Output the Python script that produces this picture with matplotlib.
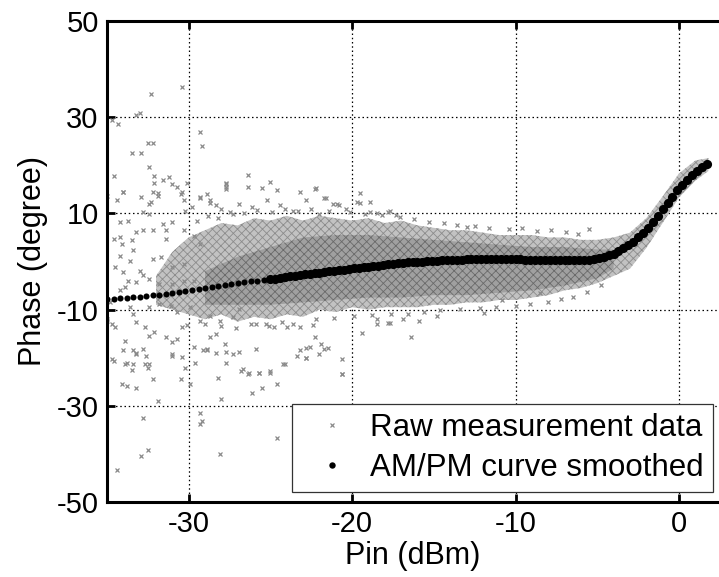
import matplotlib
matplotlib.use("Agg")
import matplotlib.pyplot as plt
from matplotlib.lines import Line2D

plt.rcParams['font.family'] = ['Liberation Sans', 'DejaVu Sans']
plt.rcParams['axes.unicode_minus'] = False
plt.rcParams['hatch.linewidth'] = 0.6

# ---------------- data ----------------
# smoothed AM/PM curve (dots)
curve_x = [-35.0, -34.6, -34.2, -33.8, -33.4, -33.0, -32.6, -32.2, -31.8, -31.4,
           -31.0, -30.6, -30.2, -29.8, -29.4, -29.0, -28.6, -28.2, -27.8, -27.4,
           -27.0, -26.6, -26.2, -25.8, -25.4,
           -25.0, -24.7, -24.4, -24.1, -23.8, -23.5, -23.2, -22.9, -22.6, -22.3,
           -22.0, -21.7, -21.4, -21.1, -20.8, -20.5, -20.2, -19.9, -19.6, -19.3,
           -19.0, -18.7, -18.4, -18.1, -17.8, -17.5, -17.2, -16.9, -16.6, -16.3,
           -16.0, -15.7, -15.4, -15.1, -14.8, -14.5, -14.2, -13.9, -13.6, -13.3,
           -13.0, -12.7, -12.4, -12.1, -11.8, -11.5, -11.2, -10.9, -10.6, -10.3,
           -10.0, -9.7, -9.4, -9.1, -8.8, -8.5, -8.2, -7.9, -7.6, -7.3,
           -7.0, -6.7, -6.4, -6.1, -5.8, -5.5, -5.2, -4.9, -4.6, -4.3,
           -4.0, -3.7, -3.4, -3.1, -2.8, -2.5, -2.2, -1.9, -1.6, -1.3,
           -1.0, -0.7, -0.4, -0.1, 0.2, 0.5, 0.8, 1.1, 1.4, 1.7]
curve_y = [-7.8, -7.7, -7.6, -7.5, -7.4, -7.3, -7.1, -7.0, -6.9, -6.7,
           -6.55, -6.35, -6.15, -5.95, -5.75, -5.55, -5.35, -5.1, -4.9, -4.65,
           -4.45, -4.3, -4.15, -4.0, -3.85,
           -3.7, -3.55, -3.4, -3.25, -3.1, -2.95, -2.8, -2.7, -2.55, -2.45,
           -2.3, -2.2, -2.05, -1.95, -1.8, -1.7, -1.6, -1.45, -1.35, -1.2,
           -1.1, -0.95, -0.85, -0.75, -0.6, -0.5, -0.4, -0.3, -0.2, -0.15,
           -0.05, 0.0, 0.1, 0.15, 0.2, 0.25, 0.3, 0.35, 0.4, 0.4,
           0.45, 0.45, 0.5, 0.5, 0.5, 0.5, 0.5, 0.5, 0.5, 0.5,
           0.45, 0.45, 0.4, 0.4, 0.4, 0.35, 0.35, 0.3, 0.3, 0.3,
           0.3, 0.25, 0.25, 0.3, 0.3, 0.4, 0.5, 0.7, 0.95, 1.25,
           1.65, 2.15, 2.75, 3.4, 4.15, 5.0, 5.95, 7.0, 8.2, 9.5,
           10.9, 12.2, 13.5, 14.8, 16.0, 17.0, 18.0, 18.9, 19.6, 20.2]

# raw measurement cloud: envelope of the dense region
env_x = [-32, -31, -30, -29, -28, -27, -26, -25, -24, -23, -22, -21, -20, -19, -18, -17,
         -16, -15, -14, -13, -12, -11, -10, -9, -8, -7, -6, -5, -4, -3, -2, -1, 0, 1, 1.8]
env_hi = [-3, 2, 5, 6.5, 8, 7.5, 9, 8.5, 9.5, 8.5, 9.5, 9, 8.5, 9, 8, 8.5,
          7.5, 7, 6.5, 6.5, 6, 5.5, 5.5, 5.5, 5, 5, 4.5, 4.5, 5, 6, 9, 13.5, 18.3, 21, 21.5]
env_lo = [-9, -10, -11, -12, -11, -12.5, -11.5, -12, -11, -11.5, -10, -10.5, -9.5, -10, -9.5, -9.5,
          -9.5, -9, -9, -8.5, -8.5, -8, -8, -7.5, -7, -6, -5.5, -4.5, -3, -1.5, 2.8, 8, 13.3, 16.8, 18.8]
core_x = [-29, -27, -25, -23, -21, -19, -17, -15, -13, -11, -9, -7, -5, -4]
core_hi = [-2, 1, 3, 5, 5.5, 5.5, 5, 4.5, 4, 3.5, 3, 3, 2.5, 2.5]
core_lo = [-9, -9, -9, -8.5, -8, -7.5, -7.5, -7, -7, -6.5, -6, -5, -3.5, -1.5]

# raw measurement cloud: scattered points
raw_x = [-34.7, -34.3, -33.2, -33.0, -32.3, -30.4, -29.3, -29.2, -33.5, -32.9,
         -32.5, -32.2, -32.4, -34.6, -32.1, -32.1, -31.6, -31.2, -34.4, -34.0,
         -32.3, -31.9, -30.4, -30.1, -29.8, -29.3, -28.7, -27.7, -27.7, -26.4,
         -26.4, -25.5, -25.0, -24.6, -23.2, -22.3, -21.6, -20.9, -19.7,
         -27.3, -26.9, -26.1, -25.2, -24.4, -23.6, -22.8, -22.0, -21.2, -20.4,
         -18.9, -18.5, -17.7, -17.3, -13.0, -5.5, -19.5, -20.8, -21.7, -22.2,
         -19.5, -18.9, -17.8,
         -34.0, -32.2, -31.9, -31.0, -30.7, -32.9, -32.4, -34.2, -33.7, -32.8,
         -32.4, -34.6, -34.1, -33.4, -32.8, -32.2, -31.6, -31.0, -30.5, -30.3,
         -30.2, -29.3, -28.9, -28.7, -27.7, -27.7, -28.3, -28.0, -34.5, -34.0,
         -33.7, -33.0, -32.8, -34.2, -33.9, -35.0, -34.7, -33.4, -33.2, -32.7,
         -32.4, -32.1, -32.8, -33.2, -31.4, -31.0, -30.7, -30.4, -30.1, -34.6,
         -33.8, -33.4, -32.6, -32.4, -31.0, -30.4, -29.7, -29.1, -28.9, -28.7,
         -28.3, -27.8, -27.7, -26.7, -26.3, -25.7, -25.0, -24.2, -23.2, -22.6,
         -26.9, -25.9, -25.9, -25.3, -24.8, -24.0, -23.2, -22.4, -35.0, -33.2,
         -31.4, -31.4, -30.3, -29.7, -29.3, -34.2, -33.5, -32.2, -31.7, -34.2,
         -33.6, -31.0, -30.3, -33.2, -32.4, -31.8, -31.0, -30.3, -29.7, -34.8,
         -33.6, -32.4, -31.8, -31.1, -30.7, -29.9, -29.3, -28.7, -28.1, -27.3,
         -26.9,
         -35.0, -34.5, -33.9, -34.0, -33.4, -33.2, -34.7, -33.9, -33.5, -34.1,
         -33.8, -33.2, -32.7, -32.5, -32.2, -32.8, -32.9, -32.5, -34.4, -31.9,
         -30.5, -29.9, -30.2, -31.0, -29.6, -29.3, -29.3, -29.2, -28.0, -28.1,
         -28.2, -27.7, -27.3, -28.9, -28.3, -26.8, -26.4, -25.7, -25.0, -26.1,
         -25.5, -24.6, -24.6, -24.1, -23.4, -22.8, -22.0, -21.7, -20.6,
         -22.8, -22.3, -21.9, -21.5, -22.8, -20.6, -20.6, -19.4, -18.5, -18.5,
         -17.8, -16.4, -15.9, -14.8, -11.9, -17.7, -16.9, -10.8, -8.5,
         -29.5, -28.8, -28.2, -27.5, -26.6, -25.8, -24.9, -24.1, -23.3, -22.5,
         -21.4, -20.1, -19.2, -18.2, -17.1, -16.2, -15.3, -14.4, -13.6, -12.5,
         -11.6, -10.4, -9.6, -8.7, -7.8, -6.9, -6.2,
         -29.0, -28.0, -27.1, -26.2, -25.1, -24.3, -23.6, -22.2, -21.1, -19.9,
         -18.8, -17.6, -16.6, -15.6, -14.6, -13.4, -12.2, -11.2, -10.0, -9.1,
         -8.0, -7.2, -6.5, -5.6, -4.8]
raw_y = [29.4, 28.5, 30.4, 30.8, 34.8, 36.3, 26.9, 24.0, 22.5, 22.5,
         24.6, 24.6, 19.6, 17.7, 17.7, 16.4, 16.9, 17.5, 12.7, 14.4,
         12.3, 14.2, 14.4, 16.3, 11.3, 13.3, 12.1, 16.4, 15.4, 17.9,
         15.4, 15.2, 16.5, 14.8, 14.4, 15.0, 13.3, 11.9, 12.3,
         9.9, 12.0, 11.3, 12.7, 11.7, 10.6, 12.7, 9.9, 12.0, 11.0,
         12.3, 10.0, 10.4, 9.6, 7.1, 6.7, 14.2, 11.7, 13.1, 15.2,
         12.1, 10.2, 10.2,
         14.4, 14.4, 13.7, 16.2, 15.5, 13.4, 12.0, 8.2, 8.5, 10.3,
         9.9, 4.7, 3.7, 2.3, 6.5, 6.5, 7.9, 8.2, 14.1, 12.7,
         10.6, 13.4, 14.1, 12.7, 16.2, 15.1, 11.7, 11.0, -1.2, -2.2,
         -4.0, -1.9, -2.9, -6.0, -5.3, -12.0, -13.0, -10.9, -12.6, -13.7,
         -15.4, -14.7, -18.2, -19.2, -15.8, -16.8, -16.1, -13.7, -13.3, -20.6,
         -21.0, -21.3, -19.6, -21.3, -19.2, -19.9, -17.8, -18.5, -18.2, -15.8,
         -15.1, -17.2, -18.9, -22.4, -23.1, -23.1, -23.1, -21.3, -18.5, -17.8,
         -18.9, -18.2, -13.0, -13.0, -13.7, -13.7, -13.7, -13.3, 13.7, 6.1,
         6.5, 4.7, 6.5, 5.4, 3.7, 5.1, 4.4, 0.6, 0.9, 1.2,
         0.2, -1.2, -0.5, -4.3, -3.6, -4.7, -4.7, -4.0, -4.0, -8.5,
         -9.5, -9.5, -8.8, -9.2, -10.6, -9.5, -12.3, -11.3, -12.3, -11.6,
         -9.9,
         -12.3, -13.7, -16.5, -18.5, -18.5, -19.0, -20.2, -21.3, -22.5, -25.4,
         -25.8, -26.3, -21.3, -22.1, -24.4, -32.5, -40.4, -39.2, -43.3, -29.0,
         -24.4, -25.4, -22.1, -19.6, -21.0, -31.5, -33.8, -33.1, -28.5, -40.0,
         -24.2, -21.0, -19.2, -18.5, -19.0, -22.7, -23.3, -23.1, -22.7, -27.3,
         -26.3, -25.4, -36.7, -21.3, -19.6, -20.0, -19.2, -18.1, -23.3,
         -17.9, -15.8, -17.1, -17.9, -20.0, -20.2, -23.3, -14.8, -11.9, -12.9,
         -12.7, -15.8, -12.3, -11.3, -10.8, -12.7, -11.9, -8.1, -6.5,
         8.5, 9.5, 9.0, 10.3, 10.0, 10.8, 10.2, 11.0, 10.4, 10.9,
         10.6, 10.3, 9.8, 9.6, 9.2, 8.8, 8.3, 8.0, 7.6, 7.3,
         7.0, 6.8, 6.9, 6.4, 6.5, 6.1, 5.8,
         -13.0, -13.4, -13.8, -13.0, -13.5, -12.6, -12.9, -12.0, -11.8, -11.4,
         -11.2, -10.9, -11.0, -10.4, -10.1, -9.9, -9.6, -9.5, -9.2, -8.8,
         -8.5, -7.8, -7.4, -6.3, -4.8]

x_ticks = [-30, -20, -10, 0]
y_ticks = [-50, -30, -10, 10, 30, 50]

# ---------------- figure ----------------
W, H = 719, 577
fig = plt.figure(figsize=(W / 100, H / 100), dpi=100)
ax = fig.add_axes([107 / W, 1 - 502 / H, 612 / W, 481 / H])

ax.fill_between(env_x, env_lo, env_hi, facecolor='#c2c2c2', edgecolor='#8c8c8c',
                hatch='xxxx', lw=0, zorder=1)
ax.fill_between(core_x, core_lo, core_hi, facecolor='#a0a0a0', edgecolor='#6a6a6a',
                hatch='xxxx', lw=0, zorder=1.1)
ax.plot(raw_x, raw_y, ls='none', marker='x', ms=3.4, mew=0.9, color='#8a8a8a', zorder=2)
n_left = 25
ax.plot(curve_x[:n_left], curve_y[:n_left], ls='none', marker='o', ms=4.4, mew=0,
        color='black', zorder=3)
ax.plot(curve_x[n_left:], curve_y[n_left:], ls='none', marker='o', ms=6.6, mew=0,
        color='black', zorder=3)

ax.set_xlim(-35, 2.45)
ax.set_ylim(-50, 50)
ax.set_xticks(x_ticks)
ax.set_yticks(y_ticks)
ax.grid(True, ls=(0, (1.2, 2.2)), color='black', lw=0.9)
ax.set_axisbelow(True)

ax.tick_params(direction='in', length=6, width=2, labelsize=21, top=True, right=False, pad=6)
for side in ['left', 'bottom', 'top']:
    ax.spines[side].set_linewidth(2.2)
ax.spines['right'].set_visible(False)

ax.set_xlabel('Pin (dBm)', fontsize=22, labelpad=2)
ax.set_ylabel('Phase (degree)', fontsize=22, labelpad=6)

h_raw = Line2D([], [], ls='none', marker='x', ms=3.4, mew=0.9, color='#8a8a8a')
h_cur = Line2D([], [], ls='none', marker='o', ms=4.6, mew=0, color='black')
leg = ax.legend([h_raw, h_cur], ['Raw measurement data', 'AM/PM curve smoothed'],
                loc='lower right', bbox_to_anchor=(0.99, 0.021), borderaxespad=0,
                fontsize=22.5, fancybox=False, framealpha=1, edgecolor='#333333',
                handlelength=2.0, handletextpad=0.2, labelspacing=0.3,
                borderpad=0.3)
leg.get_frame().set_linewidth(0.9)

fig.savefig('out.png', dpi=100)
